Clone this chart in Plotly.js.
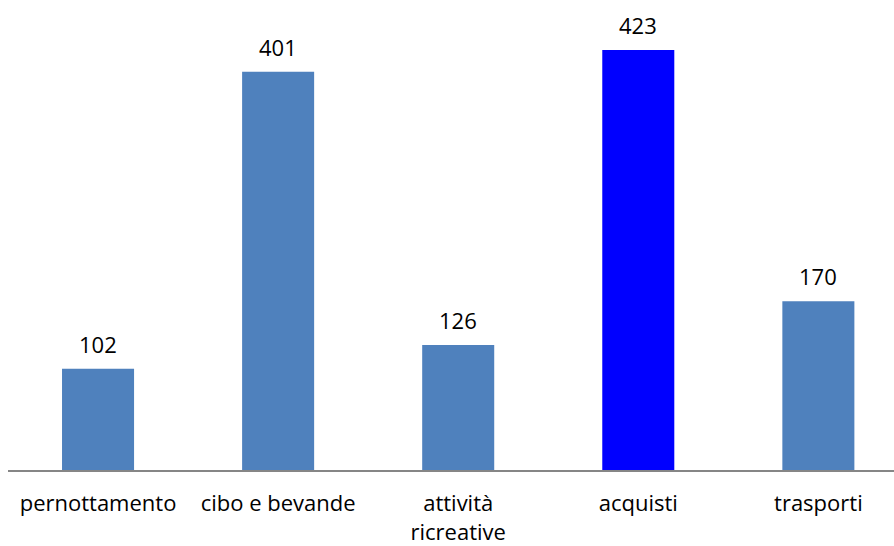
<!DOCTYPE html>
<html>
<head>
<meta charset="utf-8">
<script src="https://cdn.plot.ly/plotly-3.0.1.min.js"></script>
<style>
  html, body { margin: 0; padding: 0; background: #ffffff; }
  #chart { width: 894px; height: 546px; }
</style>
</head>
<body>
<div id="chart"></div>
<script>
// Spesa per voce (valori in euro)
const categories = ['pernottamento', 'cibo e bevande', 'attività<br>ricreative', 'acquisti', 'trasporti'];
const values = [102, 401, 126, 423, 170];
const highlighted = 'acquisti';

const baseColor = '#4F81BD';
const highlightColor = '#0000FF';
const barColors = categories.map(c => c === highlighted ? highlightColor : baseColor);

const labelFont = { family: 'Open Sans, Noto Sans, sans-serif', size: 22, color: '#000000' };

const trace = {
  type: 'bar',
  x: categories,
  y: values,
  marker: { color: barColors, line: { width: 0 } },
  hoverinfo: 'none'
};

// value labels above each bar
const valueLabels = categories.map((c, i) => ({
  x: c,
  y: values[i],
  text: String(values[i]),
  showarrow: false,
  xanchor: 'center',
  yanchor: 'bottom',
  yshift: 8,
  font: labelFont
}));

const layout = {
  width: 894,
  height: 546,
  margin: { l: 8, r: 0, t: 0, b: 76 },
  paper_bgcolor: '#ffffff',
  plot_bgcolor: '#ffffff',
  bargap: 0.6,
  showlegend: false,
  xaxis: {
    type: 'category',
    range: [-0.5, 4.42],
    showline: true,
    linecolor: '#868686',
    linewidth: 2,
    showgrid: false,
    zeroline: false,
    ticks: '',
    ticklabelstandoff: 13,
    tickfont: labelFont,
    fixedrange: true
  },
  yaxis: {
    range: [0, 473.3],
    visible: false,
    showgrid: false,
    zeroline: false,
    fixedrange: true
  },
  annotations: valueLabels
};

Plotly.newPlot('chart', [trace], layout, { displayModeBar: false, staticPlot: true });
</script>
</body>
</html>
